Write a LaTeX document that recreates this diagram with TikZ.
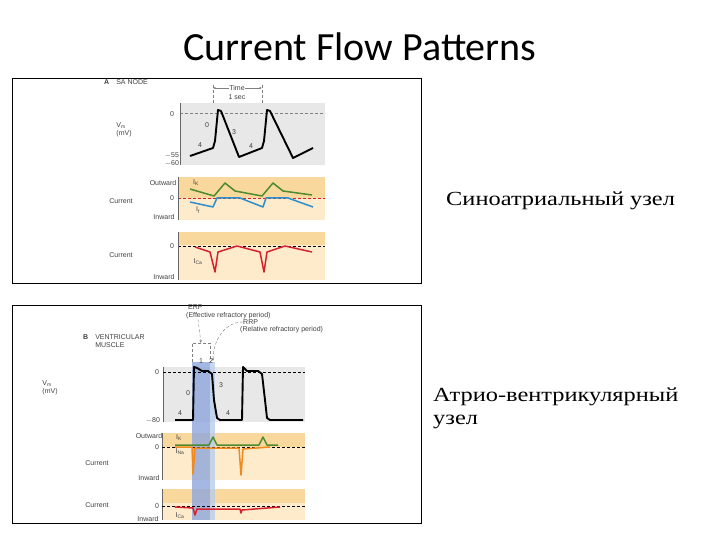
\documentclass[tikz,border=0pt]{standalone}
\usepackage{fontspec}
\setmainfont{Liberation Sans}
\newfontfamily\titlefont{Carlito}
\newfontfamily\rufont[FakeStretch=1.22]{Liberation Serif}
\usetikzlibrary{arrows.meta}
\definecolor{gbg}{HTML}{E8E8E8}
\definecolor{odark}{HTML}{F9D89E}
\definecolor{olight}{HTML}{FDEBCB}
\definecolor{gK}{HTML}{4E8A2E}
\definecolor{bF}{HTML}{2A8FCC}
\definecolor{rCa}{HTML}{D8202C}
\definecolor{oNa}{HTML}{F08A1E}
\definecolor{erp}{HTML}{8EA6DC}
\definecolor{rrp}{HTML}{B9CDEB}
\tikzset{lab/.style={font=\fontsize{7}{7.5}\selectfont,inner sep=0pt,text=black!75},
  wave/.style={line width=1.9pt,line join=round},
  cur/.style={line width=1.5pt,line join=round},
  zero/.style={densely dashed,line width=0.5pt},
  frame/.style={draw=black,line width=0.8pt},
  ru/.style={font=\rufont\fontsize{20}{23}\selectfont,inner sep=0pt}}
\begin{document}
\begin{tikzpicture}[x=1pt,y=-1pt]
\useasboundingbox (0,0) rectangle (720,540);
\node[font=\titlefont\fontsize{40}{44}\selectfont] (title) at (360,47) {Current Flow Patterns};
% ---------- Panel A
\node[frame,minimum width=409pt,minimum height=205pt,inner sep=0pt] (fa) at (216.5,180.5) {};
\node[lab,anchor=west] (ta) at (104,82) {\textbf{A}\quad SA NODE};
\fill[gbg] (180,103) rectangle (325,165);
\draw[zero,gray] (180,113) -- (325,113);
\draw[black!60] (180,103) -- (180,165);
\draw[densely dashed,gray] (213,85) -- (213,103) (262,85) -- (262,103);
\node[lab] (time) at (237,88) {Time};
\node[lab] (sec) at (237,97) {1 sec};
\draw[-{Stealth[length=3pt]},gray] (time.west) -- (213,88);
\draw[-{Stealth[length=3pt]},gray] (time.east) -- (262,88);
\node[lab] (a0) at (172,114) {0};
\node[lab,align=left] (avm) at (124,130) {V\textsubscript{m}\\(mV)};
\node[lab] (a55) at (172,156) {$-$55};
\node[lab] (a60) at (172,163) {$-$60};
\draw[wave] (190,156) -- (213,148) -- (215,141) -- (218,110) -- (221,111) -- (239,157) -- (262,148) -- (264,141) -- (267,110) -- (270,111) -- (293,158) -- (313,148);
\node[lab] (p0) at (207,125) {0};
\node[lab] (p3) at (234,132) {3};
\node[lab] (p4a) at (200,145) {4};
\node[lab] (p4b) at (251,146) {4};
% current 1
\fill[odark] (178,177) rectangle (325,198);
\fill[olight] (178,198) rectangle (325,220);
\draw[zero,rCa] (178,198) -- (325,198);
\draw[black!60] (178,177) -- (178,220);
\node[lab] (aout) at (163,183) {Outward};
\node[lab] (a0b) at (172,198) {0};
\node[lab] (ain) at (164,217) {Inward};
\node[lab] (acur) at (121,201) {Current};
\draw[cur,gK] (190,189) -- (214,196) -- (225,183) -- (235,191) -- (262,196) -- (273,183) -- (283,191) -- (312,195);
\draw[cur,bF] (190,202) -- (213,207) -- (217,198) -- (240,198) -- (263,207) -- (266,198) -- (288,198) -- (313,207);
\node[lab] (ik) at (196,183) {I\textsubscript{K}};
\node[lab] (if) at (198,210) {I\textsubscript{f}};
% current 2
\fill[odark] (178,232) rectangle (325,245);
\fill[olight] (178,245) rectangle (325,280);
\draw[zero] (178,246) -- (325,246);
\draw[black!60] (178,232) -- (178,280);
\node[lab] (a0c) at (172,246) {0};
\node[lab] (acur2) at (121,255) {Current};
\node[lab] (ain2) at (164,277) {Inward};
\draw[cur,rCa] (195,247) -- (210,252) -- (215,272) -- (218,252) -- (237,246) -- (260,252) -- (264,272) -- (267,252) -- (285,246) -- (312,252);
\node[lab] (ica) at (198,262) {I\textsubscript{Ca}};
% ---------- Panel B
\node[frame,minimum width=409pt,minimum height=218pt,inner sep=0pt] (fb) at (216.5,414) {};
\fill[gbg] (163,367) rectangle (305,422);
\fill[odark] (162,433) rectangle (305,447);
\fill[olight] (162,447) rectangle (305,480);
\fill[odark] (162,489) rectangle (305,503);
\fill[olight] (162,503) rectangle (305,520);
\fill[erp,opacity=0.8] (192,362) rectangle (210,520);
\fill[rrp,opacity=0.8] (210,362) rectangle (215,520);
\draw[black!60] (163,367) -- (163,422) (162,433) -- (162,480) (162,489) -- (162,520);
\draw[zero] (163,372) -- (305,372);
\draw[zero] (162,447) -- (305,447);
\draw[zero] (162,506) -- (305,506);
\node[lab,anchor=west] (erpt) at (188,307) {ERP};
\node[lab,anchor=west] (erpl) at (186,316) {(Effective refractory period)};
\node[lab,anchor=west] (rrpt) at (243,322) {RRP};
\node[lab,anchor=west] (rrpl) at (240,330) {(Relative refractory period)};
\node[lab,anchor=west,align=left] (tb) at (83,341) {\textbf{B}\quad VENTRICULAR\\\phantom{\textbf{B}\quad}MUSCLE};
\coordinate (b1) at (201,343);
\draw[densely dashed,gray] (192,362) -- (192,343) -- (210,343) -- (210,362);
\draw[densely dashed,gray,-{Stealth[length=3pt]}] (erpl.south west) ++(12,0) -- (b1);
\coordinate (b2) at (213,361);
\draw[densely dashed,gray,-{Stealth[length=3pt]}] (rrpt.west) to[out=180,in=90] (b2);
\node[lab] (b0) at (157,372) {0};
\node[lab] (b80) at (153,420) {$-$80};
\node[lab,align=left] (bvm) at (50,388) {V\textsubscript{m}\\(mV)};
\draw[wave] (175,420) -- (193,420) -- (194,367) -- (197,368) -- (202,371) -- (208,371) -- (212,374) -- (214,400) -- (217,418) -- (220,420) -- (242,420) -- (243,367) -- (247,371) -- (258,371) -- (262,374) -- (265,400) -- (267,418) -- (270,420) -- (303,420);
\node[lab] (q1) at (201,361) {1};
\node[lab] (q2) at (211,361) {2};
\node[lab] (q0) at (188,393) {0};
\node[lab] (q3) at (221,385) {3};
\node[lab] (q4a) at (180,413) {4};
\node[lab] (q4b) at (228,413) {4};
\node[lab] (bout) at (149,436) {Outward};
\node[lab] (b0b) at (157,447) {0};
\node[lab] (bcur) at (97,463) {Current};
\node[lab] (bin) at (149,478) {Inward};
\draw[cur,oNa] (175,447) -- (192,447) -- (193,474) -- (195,448) -- (239,448) -- (241,475) -- (243,449) -- (270,447);
\draw[cur,gK] (175,445) -- (209,445) -- (213,437) -- (217,445) -- (259,445) -- (263,437) -- (267,445) -- (278,445);
\node[lab] (bik) at (179,438) {I\textsubscript{K}};
\node[lab] (bina) at (180,452) {I\textsubscript{Na}};
\node[lab] (b0c) at (157,506) {0};
\node[lab] (bcur2) at (97,505) {Current};
\node[lab] (bin2) at (148,519) {Inward};
\draw[cur,rCa] (175,507) -- (193,508) -- (195,515) -- (197,509) -- (240,509) -- (241,513) -- (242,510) -- (280,507);
\node[lab] (bica) at (180,516) {I\textsubscript{Ca}};
% ---------- Russian
\node[ru,anchor=west] (sa) at (446,201) {Синоатриальный узел};
\node[ru,anchor=west,align=left] (av) at (433,408) {Атрио-вентрикулярный\\узел};
\end{tikzpicture}
\end{document}
